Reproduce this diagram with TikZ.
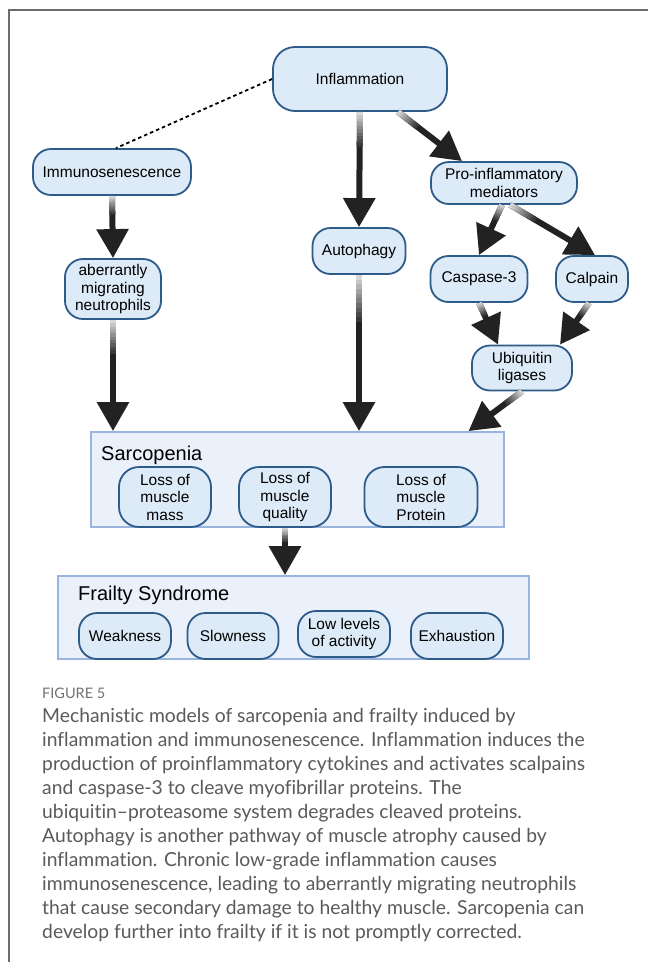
\documentclass[tikz,border=0pt]{standalone}
\usepackage{fontspec}
\setmainfont{Liberation Sans}
\newfontfamily\capfont{Lato}[Ligatures={TeX,NoCommon}]
\usepackage{tikz}
\usetikzlibrary{positioning,arrows.meta,calc}

\definecolor{nodefill}{HTML}{DDEAF7}
\definecolor{nodeedge}{HTML}{2E5C8A}
\definecolor{groupfill}{HTML}{EAF1FA}
\definecolor{groupedge}{HTML}{9AB4E0}
\definecolor{arrowdark}{HTML}{222222}
\definecolor{capgray}{HTML}{5A5A5A}

% arrow whose shaft fades in from the source end
\newcommand{\fadearrow}[2]{%
  \draw[fadearr] #1 -- #2;
  \foreach \k in {0,...,9} {
    \pgfmathsetmacro\fa{0.03*\k}
    \pgfmathsetmacro\fb{0.03*\k+0.034}
    \pgfmathtruncatemacro\fadeval{18+8*\k}
    \draw[line width=6pt, draw=arrowdark!\fadeval!white] ($#1!\fa!#2$) -- ($#1!\fb!#2$);
  }
}

\begin{document}
\begin{tikzpicture}[x=1pt,y=-1pt,
  ovalbox/.style={draw=nodeedge, fill=nodefill, line width=1.8pt, rounded corners=18pt,
    align=center, inner sep=2pt, minimum height=46pt, font=\fontsize{15.5}{17.5}\selectfont},
  groupbox/.style={draw=groupedge, fill=groupfill, line width=1.8pt},
  grouptitle/.style={anchor=base west, inner sep=0pt, font=\fontsize{20}{24}\selectfont},
  fadearr/.style={draw=arrowdark, line width=6pt, -{Triangle[length=29pt,width=31pt]}},
  dotlink/.style={draw=black, line width=1.8pt, dash pattern=on 3.5pt off 3pt}]
\useasboundingbox (0,0) rectangle (648,962);
\fill[white] (0,0) rectangle (648,962);
\draw[gray!85!black, line width=1.5pt] (9,962) -- (9,10) -- (648,10);

% upper pathway nodes
\node[ovalbox, minimum width=174pt, minimum height=64pt, rounded corners=22pt] (infl) at (360,79) {Inflammation};
\node[ovalbox, minimum width=158pt] (immuno) at (112,172) {Immunosenescence};
\node[ovalbox, minimum width=146pt, minimum height=42pt] (pro) at (504,183) {Pro-inflammatory\\mediators};
\node[ovalbox, minimum width=93pt] (auto) at (359,251) {Autophagy};
\node[ovalbox, minimum width=96pt, minimum height=60pt] (neutro) at (113,289) {aberrantly\\migrating\\neutrophils};
\node[ovalbox, minimum width=97pt] (casp) at (479,279) {Caspase-3};
\node[ovalbox, minimum width=72pt] (calp) at (592,279) {Calpain};
\node[ovalbox, minimum width=100pt, minimum height=45pt] (ubi) at (522,368) {Ubiquitin\\ligases};

% sarcopenia group
\node[groupbox, minimum width=413pt, minimum height=95pt] (sarc) at (297.5,479.5) {};
\node[grouptitle] (sarctitle) at (101,460) {Sarcopenia};
\node[ovalbox, minimum width=92pt, minimum height=60pt, rounded corners=20pt] (mass) at (165,497) {Loss of\\muscle\\mass};
\node[ovalbox, minimum width=92pt, minimum height=60pt, rounded corners=20pt] (quality) at (285,497) {Loss of\\muscle\\quality};
\node[ovalbox, minimum width=113pt, minimum height=60pt, rounded corners=20pt] (protein) at (421,497) {Loss of\\muscle\\Protein};

% frailty group
\node[groupbox, minimum width=471pt, minimum height=83pt] (frail) at (293.5,617.5) {};
\node[grouptitle] (frailtitle) at (78,600) {Frailty Syndrome};
\node[ovalbox, minimum width=92pt] (weak) at (125,636) {Weakness};
\node[ovalbox, minimum width=91pt] (slow) at (233,636) {Slowness};
\node[ovalbox, minimum width=92pt] (low) at (344,634) {Low levels\\of activity};
\node[ovalbox, minimum width=92pt] (exh) at (457,636) {Exhaustion};

% arrow end points
\coordinate (inflout) at ([xshift=38pt]infl.south);
\coordinate (proin) at ([xshift=-42pt]pro.north);
\coordinate (procasp) at ([xshift=-2pt]pro.south);
\coordinate (procalp) at ([xshift=6pt]pro.south);
\coordinate (calpin) at ([xshift=3pt]calp.north);
\coordinate (ubicasp) at ([xshift=-24pt]ubi.north);
\coordinate (ubicalp) at ([xshift=38pt]ubi.north);
\coordinate (calpout) at ([xshift=-3pt]calp.south);
\coordinate (neutroin) at (neutro.south |- sarc.north);
\coordinate (autoin) at (auto.south |- sarc.north);
\coordinate (ubiin) at ([xshift=171pt]sarc.north);
\coordinate (sarcout) at (quality.south |- sarc.south);
\coordinate (frailin) at (quality.south |- frail.north);

% connectors
\draw[dotlink] (infl.west) -- ([xshift=4pt]immuno.north);
\fadearrow{(immuno.south)}{(neutro.north)}
\fadearrow{(infl.south)}{(auto.north)}
\fadearrow{(inflout)}{(proin)}
\fadearrow{(procasp)}{(casp.north)}
\fadearrow{(procalp)}{(calpin)}
\fadearrow{(casp.south)}{(ubicasp)}
\fadearrow{(calpout)}{(ubicalp)}
\fadearrow{(ubi.south)}{(ubiin)}
\fadearrow{(neutro.south)}{(neutroin)}
\fadearrow{(auto.south)}{(autoin)}
\fadearrow{(sarcout)}{(frailin)}

% caption
\node[anchor=base west, inner sep=0pt, text=capgray!85!white, font=\capfont\fontsize{14.5}{16}\selectfont] (figlabel) at (42,698) {FIGURE 5};
\node[anchor=north west, inner sep=0pt, align=left, text=capgray, font=\capfont\fontsize{19.3}{24}\selectfont] (caption) at (42,708) {%
Mechanistic models of sarcopenia and frailty induced by\\
inflammation and immunosenescence. Inflammation induces the\\
production of proinflammatory cytokines and activates scalpains\\
and caspase-3 to cleave myofibrillar proteins. The\\
ubiquitin–proteasome system degrades cleaved proteins.\\
Autophagy is another pathway of muscle atrophy caused by\\
inflammation. Chronic low-grade inflammation causes\\
immunosenescence, leading to aberrantly migrating neutrophils\\
that cause secondary damage to healthy muscle. Sarcopenia can\\
develop further into frailty if it is not promptly corrected.};
\end{tikzpicture}
\end{document}
